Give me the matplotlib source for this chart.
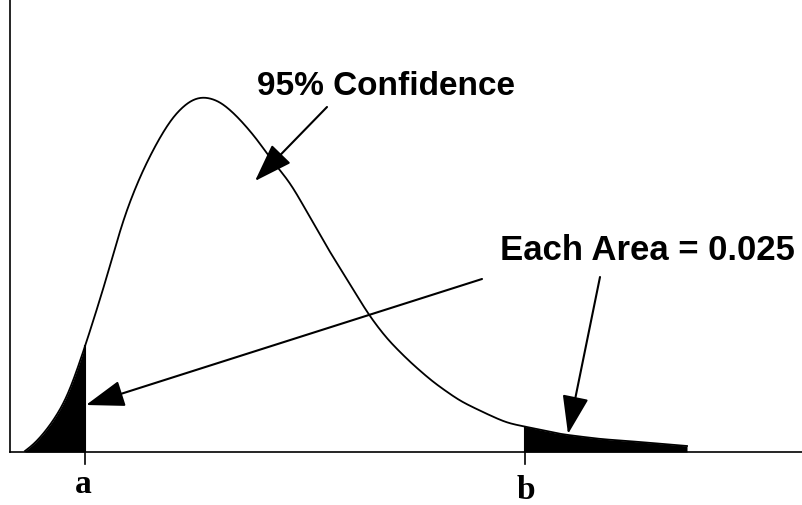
import matplotlib
matplotlib.use("Agg")
import matplotlib.pyplot as plt
import numpy as np

# Curve samples (x position, density height)
curve_x = [25, 33, 50, 67, 85, 107, 123, 140, 157, 173, 190, 203, 220, 237, 257, 272,
           290, 307, 328, 350, 368, 387, 410, 433, 460, 487, 507, 527, 560, 600, 640, 687]
curve_y = [1, 6, 26, 53, 105, 175, 233, 276, 310, 336, 352, 356, 351, 336, 313, 291,
           270, 240, 203, 168, 138, 113, 90, 70, 51, 38, 29, 25, 18, 13, 10, 6]
a_pos = 85
b_pos = 525
tick_labels = ["a", "b"]
title_text = "95% Confidence"
area_text = "Each Area = 0.025"

fig = plt.figure(figsize=(8.03, 5.06), dpi=100)
ax = fig.add_axes([10/803, (506-453)/506, 793/803, 453/506])
ax.set_xlim(10, 803)
ax.set_ylim(0, 453)
for s in ["top", "right"]:
    ax.spines[s].set_visible(False)
ax.spines["left"].set_linewidth(1.2)
ax.spines["bottom"].set_linewidth(1.2)
ax.set_xticks([])
ax.set_yticks([])

# dense linear interpolation then gaussian smoothing
xs = np.array(curve_x, float)
ys = np.array(curve_y, float)
xf = np.arange(xs[0], xs[-1] + 0.5, 0.5)
yl = np.interp(xf, xs, ys)
sigma = 14  # samples (7 px)
kx = np.arange(-4*sigma, 4*sigma + 1)
kern = np.exp(-0.5*(kx/sigma)**2); kern /= kern.sum()
padl = 2*yl[0] - yl[1:4*sigma+1][::-1]
padr = 2*yl[-1] - yl[-4*sigma-1:-1][::-1]
yf = np.convolve(np.concatenate([padl, yl, padr]), kern, mode="valid")
yf = np.clip(yf, 0, None)

ax.plot(xf, yf, color="black", lw=1.3, zorder=3)
mask_l = xf <= a_pos
ax.fill_between(xf[mask_l], 0, yf[mask_l], color="black", lw=0, zorder=2)
mask_r = xf >= b_pos
ax.fill_between(xf[mask_r], 0, yf[mask_r], color="black", lw=0, zorder=2)
ax.plot([a_pos, a_pos], [0, np.interp(a_pos, xf, yf)], color="black", lw=1.5)
ax.plot([b_pos, b_pos], [0, np.interp(b_pos, xf, yf)], color="black", lw=1.5)

# tick marks below axis
for p in (a_pos, b_pos):
    ax.plot([p, p], [0, -12], color="black", lw=1.2, clip_on=False)

ax.text(a_pos - 2, 453-493, tick_labels[0], ha="center", va="baseline", fontsize=24,
        fontweight="bold", family="Liberation Serif")
ax.text(b_pos + 1, 453-499, tick_labels[1], ha="center", va="baseline", fontsize=24,
        fontweight="bold", family="Liberation Serif")

ax.text(386, 453-95, title_text, ha="center", va="baseline", fontsize=24,
        fontweight="bold", family="Liberation Sans")
ax.text(647, 453-260, area_text, ha="center", va="baseline", fontsize=25,
        fontweight="bold", family="Liberation Sans", clip_on=False)

aprops = dict(arrowstyle="-|>,head_length=1.6,head_width=0.55", lw=1.5,
              color="black", shrinkA=0, shrinkB=0, mutation_scale=15)
ax.annotate("", xy=(255, 453-182), xytext=(327, 453-108), arrowprops=aprops)
ax.annotate("", xy=(86, 453-406), xytext=(482, 453-280), arrowprops=aprops)
ax.annotate("", xy=(568, 453-435), xytext=(600, 453-278), arrowprops=aprops)

fig.savefig("out.png", dpi=100)
